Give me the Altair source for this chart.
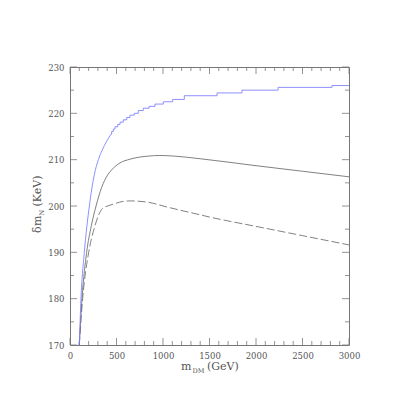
import altair as alt
import pandas as pd

# ---- data ----
blue_curve_m = [100, 118, 154, 208, 261, 305, 345, 395, 441]
blue_curve_v = [170.0, 180.0, 190.0, 200.0, 206.7, 210.0, 212.0, 214.0, 215.5]

blue_step_m = [441, 448, 466, 484, 513, 538, 573, 610, 645, 691, 734, 788, 850, 914,
               1003, 1104, 1229, 1581, 1849, 2237, 2817, 3000]
blue_step_v = [215.5, 216.1, 216.6, 217.1, 217.6, 218.1, 218.6, 219.1, 219.6, 220.0,
               220.6, 221.1, 221.5, 222.0, 222.5, 223.0, 223.8, 224.4, 225.0, 225.6,
               226.0, 226.0]

solid_m = [100, 129, 179, 230, 280, 340, 405, 448, 538, 645, 860, 960, 1100, 1400,
           2000, 2500, 3000]
solid_v = [170.0, 180.0, 190.0, 195.8, 200.0, 204.0, 206.7, 207.8, 209.3, 210.1,
           210.8, 210.9, 210.8, 210.2, 208.7, 207.5, 206.3]

dash_m = [100, 136, 201, 261, 351, 420, 495, 573, 650, 842, 1040, 1398, 1505, 2000,
          2500, 3000]
dash_v = [170.0, 180.0, 190.0, 195.2, 199.5, 200.1, 200.6, 201.0, 201.1, 200.8,
          199.8, 198.1, 197.6, 195.6, 193.6, 191.6]

x_major = [0, 500, 1000, 1500, 2000, 2500, 3000]
x_minor = [v for v in range(0, 3001, 100) if v % 500 != 0]
y_major = [170, 180, 190, 200, 210, 220, 230]
y_minor = [175, 185, 195, 205, 215, 225]

W, H = 279, 278
GRAY = "#777777"
LINE = "#6a6a6a"
BLUE = "#7b7bff"
FONT = "DejaVu Serif"

xs = alt.Scale(domain=[0, 3000], nice=False, zero=False)
ys = alt.Scale(domain=[170, 230], nice=False, zero=False)
xaxis = alt.Axis(values=x_major, format="d", title=None, ticks=False, domain=False,
                 grid=False, labelFont=FONT, labelFontSize=8.5, labelColor="#555555",
                 labelPadding=6, labelFlush=False)
yaxis = alt.Axis(values=y_major, format="d", title=None, ticks=False, domain=False,
                 grid=False, labelFont=FONT, labelFontSize=8.5, labelColor="#555555",
                 labelPadding=6)


def series(m, v):
    return pd.DataFrame({"m": m, "v": v})


def line(df, color, interp, dash=None, width=0.85):
    kw = dict(color=color, strokeWidth=width, interpolate=interp, clip=True)
    if dash:
        kw["strokeDash"] = dash
    return alt.Chart(df).mark_line(**kw).encode(
        x=alt.X("m:Q", scale=xs, axis=xaxis),
        y=alt.Y("v:Q", scale=ys, axis=yaxis),
    )


blue1 = line(series(blue_curve_m, blue_curve_v), BLUE, "monotone")
blue2 = line(series(blue_step_m, blue_step_v), BLUE, "step-after")
solid = line(series(solid_m, solid_v), LINE, "monotone")
dashed = line(series(dash_m, dash_v), LINE, "monotone", dash=[8, 3])


def xticks(vals, y0, y1):
    return alt.Chart(pd.DataFrame({"t": vals})).mark_rule(color=GRAY, strokeWidth=0.8).encode(
        x=alt.X("t:Q", scale=xs, axis=xaxis), y=alt.value(y0), y2=alt.value(y1))


def yticks(vals, x0, x1):
    return alt.Chart(pd.DataFrame({"t": vals})).mark_rule(color=GRAY, strokeWidth=0.8).encode(
        y=alt.Y("t:Q", scale=ys, axis=yaxis), x=alt.value(x0), x2=alt.value(x1))


ticks = [
    xticks(x_major, H, H - 7), xticks(x_minor, H, H - 4),
    xticks(x_major, 0, 7), xticks(x_minor, 0, 4),
    yticks(y_major, 0, 7), yticks(y_minor, 0, 4),
    yticks(y_major, W, W - 7), yticks(y_minor, W, W - 4),
]

# ---- axis titles (with subscripts) ----
one = pd.DataFrame({"k": [0]})


def txt(s, x, y, size, angle=0):
    kw = dict(text=s, font=FONT, fontSize=size, color="#555555", align="left",
              baseline="alphabetic")
    if angle:
        kw["angle"] = angle
    return alt.Chart(one).mark_text(**kw).encode(x=alt.value(x), y=alt.value(y))


titles = [
    txt("m", 111, 303, 11), txt("DM", 122.5, 305.5, 6.5), txt("(GeV)", 137, 303, 11),
    txt("δ", -29, 166, 11, 270), txt("m", -29, 159, 11, 270),
    txt("N", -26.5, 148.5, 6.5, 270), txt("(KeV)", -29, 139.5, 11, 270),
]

chart = alt.layer(*ticks, dashed, solid, blue1, blue2, *titles).properties(
    width=W, height=H,
    autosize=alt.AutoSizeParams(type="none"),
    padding={"left": 62, "top": 59, "right": 58, "bottom": 62},
).configure_view(stroke=GRAY, strokeWidth=1)

chart.save("out.html", embed_options={"renderer": "svg", "actions": False})
